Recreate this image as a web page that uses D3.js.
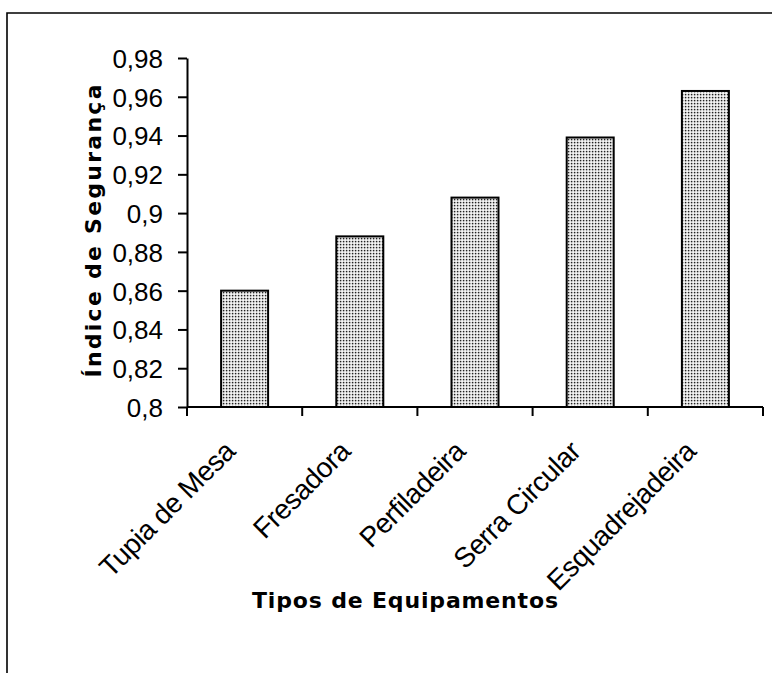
<!DOCTYPE html>
<html>
<head>
<meta charset="utf-8">
<script src="https://cdn.jsdelivr.net/npm/d3@7"></script>
<style>
  html, body { margin: 0; padding: 0; background: #fff; }
  svg { display: block; }
  text { fill: #000; }
</style>
</head>
<body>
<svg id="chart" width="772" height="673"></svg>
<script>
// Safety index per equipment type
const categories = ["Tupia de Mesa", "Fresadora", "Perfiladeira", "Serra Circular", "Esquadrejadeira"];
const values = [0.86, 0.888, 0.908, 0.939, 0.963];
const yTicks = [0.8, 0.82, 0.84, 0.86, 0.88, 0.9, 0.92, 0.94, 0.96, 0.98];
const yTitle = "Índice de Segurança";
const xTitle = "Tipos de Equipamentos";

const svg = d3.select("#chart");

// dotted fill for the bars
const defs = svg.append("defs");
const pat = defs.append("pattern")
  .attr("id", "dots")
  .attr("patternUnits", "userSpaceOnUse")
  .attr("width", 3).attr("height", 3);
pat.append("rect").attr("width", 3).attr("height", 3).attr("fill", "#fff");
pat.append("rect").attr("x", 0.8).attr("y", 0.8).attr("width", 1.6).attr("height", 1.6).attr("fill", "#222");

// outer frame (left and top edges)
svg.append("path")
  .attr("d", "M7,673 L7,13 L772,13")
  .attr("fill", "none").attr("stroke", "#000").attr("stroke-width", 1.6);

const x = d3.scaleBand()
  .domain(categories)
  .range([187, 763])
  .paddingInner(0.592)
  .paddingOuter(0.296);

const y = d3.scaleLinear()
  .domain([0.8, 0.98])
  .range([407, 58]);

const fmt = d => d3.format(".2~f")(d).replace(".", ",");

// y axis
const yAxis = svg.append("g")
  .attr("transform", "translate(187,0)")
  .call(d3.axisLeft(y).tickValues(yTicks).tickFormat(fmt).tickSize(9).tickPadding(15).tickSizeOuter(0));
yAxis.select(".domain").attr("stroke-width", 2);
yAxis.selectAll(".tick line").attr("stroke-width", 2);
yAxis.selectAll(".tick text")
  .attr("font-family", "'Liberation Sans', Arial, sans-serif")
  .attr("font-size", 26)
  .attr("dy", "0.36em");

// bars
svg.append("g").selectAll("rect")
  .data(categories)
  .join("rect")
  .attr("x", d => x(d))
  .attr("y", (d, i) => y(values[i]))
  .attr("width", x.bandwidth())
  .attr("height", (d, i) => y(0.8) - y(values[i]))
  .attr("fill", "url(#dots)")
  .attr("stroke", "#000")
  .attr("stroke-width", 2);

// x axis line with ticks between categories
const xg = svg.append("g").attr("transform", `translate(0,${y(0.8)})`);
xg.append("line")
  .attr("x1", x.range()[0]).attr("x2", x.range()[1])
  .attr("stroke", "#000").attr("stroke-width", 2);
const gap = (x.step() - x.bandwidth()) / 2;
const bounds = categories.map(c => x(c) - gap).concat([x.range()[1]]);
xg.selectAll("line.tk")
  .data(bounds)
  .join("line")
  .attr("class", "tk")
  .attr("x1", d => d).attr("x2", d => d)
  .attr("y1", 0).attr("y2", 9)
  .attr("stroke", "#000").attr("stroke-width", 2);

// rotated category labels
svg.append("g").selectAll("text")
  .data(categories)
  .join("text")
  .attr("transform", d => `translate(${x(d) + x.bandwidth() / 2 - 8},${y(0.8) + 46}) rotate(-45)`)
  .attr("text-anchor", "end")
  .attr("font-family", "'Liberation Sans', Arial, sans-serif")
  .attr("font-size", 28)
  .attr("letter-spacing", -0.5)
  .text(d => d);

// axis titles
svg.append("text")
  .attr("transform", "translate(101,231) rotate(-90)")
  .attr("text-anchor", "middle")
  .attr("font-family", "'DejaVu Sans', Verdana, sans-serif")
  .attr("font-weight", "bold")
  .attr("font-size", 22)
  .attr("textLength", 293)
  .attr("lengthAdjust", "spacing")
  .text(yTitle);

svg.append("text")
  .attr("x", 405).attr("y", 608)
  .attr("text-anchor", "middle")
  .attr("font-family", "'DejaVu Sans', Verdana, sans-serif")
  .attr("font-weight", "bold")
  .attr("font-size", 22)
  .attr("textLength", 306)
  .attr("lengthAdjust", "spacing")
  .text(xTitle);
</script>
</body>
</html>
